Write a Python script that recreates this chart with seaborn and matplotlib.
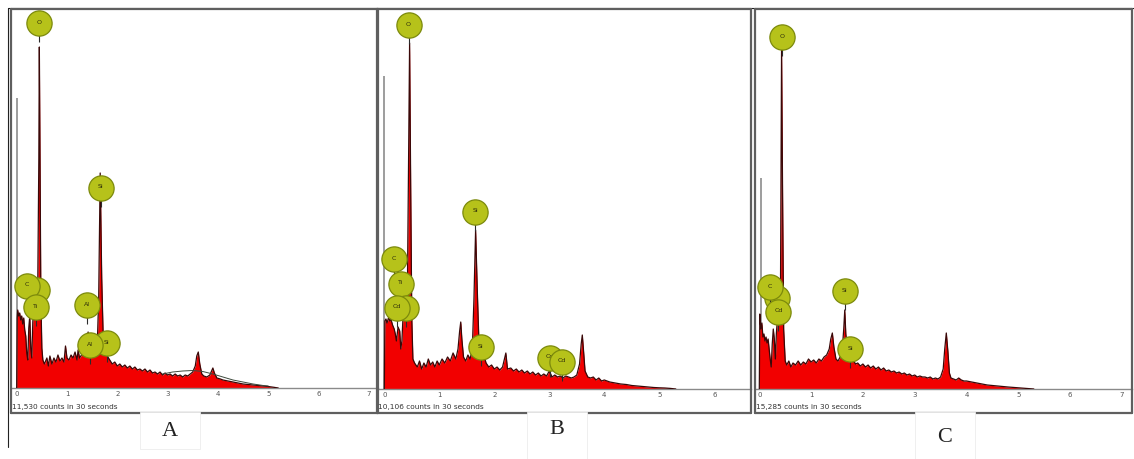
import matplotlib
matplotlib.use('Agg')
import matplotlib.pyplot as plt
from matplotlib.patches import Rectangle
from matplotlib.lines import Line2D
import seaborn as sns

W, H = 1134, 459

# ---- spectrum A ----
energy_a = [0.00, 0.01, 0.02, 0.04, 0.06, 0.08, 0.10, 0.12, 0.14, 0.16, 0.18, 0.20, 0.22, 0.24, 0.26,
            0.28, 0.30, 0.32, 0.34, 0.36, 0.38, 0.40, 0.42, 0.44, 0.45, 0.46, 0.48, 0.50, 0.52, 0.55,
            0.60, 0.63, 0.66, 0.70, 0.74, 0.78, 0.82, 0.86, 0.90, 0.94, 0.97, 1.00, 1.04, 1.08, 1.12,
            1.16, 1.20, 1.22, 1.25, 1.30, 1.34, 1.38, 1.42, 1.45, 1.50, 1.55, 1.60, 1.63, 1.66, 1.69,
            1.72, 1.76, 1.80, 1.85, 1.90, 1.95, 2.00, 2.05, 2.10, 2.15, 2.20, 2.25, 2.30, 2.35, 2.40,
            2.45, 2.50, 2.55, 2.60, 2.65, 2.70, 2.75, 2.80, 2.85, 2.90, 2.95, 3.00, 3.05, 3.10, 3.15,
            3.20, 3.25, 3.30, 3.35, 3.40, 3.45, 3.50, 3.55, 3.58, 3.61, 3.64, 3.68, 3.72, 3.78, 3.84,
            3.90, 3.93, 3.98, 4.05, 4.10, 4.20, 4.30, 4.40, 4.50, 4.60, 4.70, 4.80, 4.90, 5.00, 5.10,
            5.20]
counts_a = [0, 70, 78, 72, 75, 68, 72, 64, 70, 58, 52, 35, 28, 60, 72,
            40, 30, 66, 82, 88, 86, 92, 110, 230, 341, 260, 90, 40, 28, 24,
            30, 22, 32, 24, 30, 26, 33, 27, 30, 26, 42, 30, 28, 33, 30,
            36, 28, 38, 30, 34, 38, 45, 56, 40, 34, 32, 40, 90, 215, 110,
            50, 44, 32, 28, 24, 26, 22, 24, 21, 23, 20, 22, 19, 21, 18,
            19, 17, 19, 16, 18, 15, 16, 14, 16, 13, 15, 13, 14, 12, 14,
            12, 13, 11, 13, 12, 14, 16, 22, 32, 36, 24, 14, 12, 11, 13,
            20, 15, 10, 9, 8, 7, 6, 5, 4, 3.5, 3, 2.5, 2, 1.5, 0.8,
            0]
bg_energy_a = [2.9, 3.1, 3.3, 3.5, 3.7, 3.9, 4.1, 4.3, 4.5, 4.7, 4.9, 5.0]
bg_counts_a = [14, 16, 17, 17.5, 16.5, 14, 11, 8, 6, 4, 2.5, 2]
zero_a = (0.01, 290)
labels_a = ["N", "C", "Ti", "O", "Si", "Al", "Si", "Al"]
label_e_a = [0.40, 0.20, 0.38, 0.45, 1.67, 1.40, 1.79, 1.46]
label_h_a = [98, 102, 81, 365, 200, 83, 45, 43]

# ---- spectrum B ----
energy_b = [0.00, 0.01, 0.03, 0.05, 0.08, 0.10, 0.12, 0.15, 0.18, 0.20, 0.22, 0.25, 0.28, 0.30, 0.32,
            0.34, 0.36, 0.38, 0.40, 0.42, 0.44, 0.46, 0.48, 0.50, 0.52, 0.55, 0.60, 0.64, 0.68, 0.72,
            0.76, 0.80, 0.84, 0.88, 0.92, 0.96, 1.00, 1.05, 1.10, 1.15, 1.20, 1.25, 1.30, 1.34, 1.37,
            1.39, 1.41, 1.44, 1.48, 1.52, 1.56, 1.60, 1.63, 1.66, 1.69, 1.72, 1.76, 1.80, 1.85, 1.90,
            1.95, 2.00, 2.05, 2.10, 2.15, 2.21, 2.24, 2.30, 2.35, 2.40, 2.45, 2.50, 2.55, 2.60, 2.65,
            2.70, 2.75, 2.80, 2.85, 2.90, 2.95, 3.00, 3.05, 3.10, 3.15, 3.20, 3.25, 3.30, 3.35, 3.40,
            3.45, 3.50, 3.55, 3.58, 3.60, 3.62, 3.65, 3.70, 3.75, 3.80, 3.85, 3.90, 3.95, 4.00, 4.10,
            4.20, 4.30, 4.40, 4.50, 4.60, 4.70, 4.80, 4.90, 5.00, 5.10, 5.20, 5.30]
counts_b = [0, 68, 70, 66, 72, 68, 70, 64, 60, 55, 48, 62, 58, 40, 48,
            72, 76, 74, 80, 100, 220, 346, 200, 70, 30, 26, 22, 28, 20, 26,
            22, 30, 24, 27, 22, 28, 24, 30, 26, 32, 28, 36, 30, 40, 58,
            67, 50, 32, 28, 34, 30, 40, 90, 159, 100, 48, 42, 36, 26, 22,
            24, 20, 22, 19, 22, 36, 20, 21, 18, 20, 17, 19, 16, 18, 15,
            17, 14, 16, 13, 15, 13, 18, 12, 14, 12, 13, 11, 13, 12, 11,
            12, 14, 25, 45, 54, 40, 18, 12, 11, 12, 9, 11, 8, 9, 7,
            6, 5, 4.5, 3.5, 3, 2.5, 2, 1.5, 1.2, 1, 0.6, 0]
zero_b = (0.00, 313)
labels_b = ["C", "Ti", "Cd", "Cd", "O", "Si", "Si", "Cd", "Cd"]
label_e_b = [0.18, 0.30, 0.39, 0.23, 0.44, 1.65, 1.75, 3.01, 3.23]
label_h_b = [130, 105, 81, 81, 364, 177, 42, 31, 27]

# ---- spectrum C ----
energy_c = [0.00, 0.01, 0.03, 0.05, 0.07, 0.09, 0.11, 0.13, 0.15, 0.17, 0.19, 0.21, 0.23, 0.25, 0.27,
            0.29, 0.31, 0.33, 0.35, 0.37, 0.39, 0.41, 0.43, 0.45, 0.47, 0.50, 0.53, 0.57, 0.61, 0.65,
            0.70, 0.75, 0.80, 0.85, 0.90, 0.95, 1.00, 1.05, 1.10, 1.15, 1.20, 1.25, 1.30, 1.35, 1.38,
            1.41, 1.44, 1.48, 1.52, 1.56, 1.60, 1.63, 1.65, 1.67, 1.70, 1.74, 1.78, 1.82, 1.86, 1.90,
            1.95, 2.00, 2.05, 2.10, 2.15, 2.20, 2.25, 2.30, 2.35, 2.40, 2.45, 2.50, 2.55, 2.60, 2.65,
            2.70, 2.75, 2.80, 2.85, 2.90, 2.95, 3.00, 3.05, 3.10, 3.15, 3.20, 3.25, 3.30, 3.35, 3.40,
            3.45, 3.50, 3.55, 3.58, 3.61, 3.64, 3.67, 3.70, 3.75, 3.80, 3.85, 3.90, 3.95, 4.00, 4.10,
            4.20, 4.30, 4.40, 4.50, 4.60, 4.70, 4.80, 4.90, 5.00, 5.10, 5.20, 5.30]
counts_c = [0, 75, 60, 66, 52, 55, 48, 52, 46, 50, 40, 30, 22, 45, 60,
            50, 30, 56, 70, 74, 72, 110, 341, 190, 60, 28, 24, 28, 22, 26,
            24, 28, 24, 27, 25, 30, 27, 29, 26, 30, 28, 32, 34, 40, 50,
            56, 42, 30, 28, 32, 38, 60, 79, 55, 42, 38, 32, 28, 25, 26,
            23, 25, 22, 24, 21, 23, 20, 22, 19, 21, 18, 19, 17, 18, 16,
            17, 15, 16, 14, 15, 13, 14, 12, 13, 12, 12, 11, 12, 10, 11,
            10, 12, 20, 40, 56, 38, 16, 11, 10, 9, 11, 9, 8, 8, 7,
            6, 5, 4, 3.5, 3, 2.5, 2, 1.6, 1.2, 0.8, 0.4, 0]
zero_c = (0.03, 211)
labels_c = ["Ti", "C", "Cd", "O", "Si", "Si"]
label_e_c = [0.34, 0.21, 0.37, 0.44, 1.65, 1.76]
label_h_c = [91, 102, 77, 352, 98, 40]

counts_text = ["11,530 counts in 30 seconds", "10,106 counts in 30 seconds", "15,285 counts in 30 seconds"]
panel_names = ["A", "B", "C"]

sns.set_style("white")
plt.rcParams['font.family'] = ['DejaVu Sans']

fig = plt.figure(figsize=(W / 100, H / 100), dpi=100)


def fx(x):
    return x / W


def fy(y):
    return 1 - y / H


def frame_line(x0, y0, x1, y1, color='#5f5f5f', lw=1.6, z=1):
    fig.add_artist(Line2D([fx(x0), fx(x1)], [fy(y0), fy(y1)], color=color, lw=lw, zorder=z))


# outer border of the whole picture
frame_line(8, 8, 1134, 8, color='#222222', lw=0.8)
frame_line(8, 8, 8, 447, color='#222222', lw=0.8)

# frame edges, zero-energy pixel, px per keV, baseline, caption position and caption box (all in px)
panels = [
    dict(energy=energy_a, counts=counts_a, zero=zero_a, labels=labels_a, le=label_e_a, lh=label_h_a,
         fl=11, fr=378, x0=16.7, scale=50.3, base=388, lx=170, ly=432, bx0=140, bx1=200, bb=449, nt=8),
    dict(energy=energy_b, counts=counts_b, zero=zero_b, labels=labels_b, le=label_e_b, lh=label_h_b,
         fl=377, fr=751, x0=384.3, scale=55.0, base=389, lx=557, ly=430, bx0=527, bx1=587, bb=459, nt=7),
    dict(energy=energy_c, counts=counts_c, zero=zero_c, labels=labels_c, le=label_e_c, lh=label_h_c,
         fl=755, fr=1132, x0=759.3, scale=51.8, base=389, lx=945, ly=438, bx0=915, bx1=975, bb=459, nt=8),
]

top = 12
for i, p in enumerate(panels):
    ax = fig.add_axes([fx(p['fl']), fy(p['base']), fx(p['fr'] - p['fl']), (p['base'] - top) / H])
    ax.patch.set_alpha(0)
    ax.fill_between(p['energy'], 0, p['counts'], color='#f20000', lw=0, zorder=2)
    sns.lineplot(x=p['energy'], y=p['counts'], ax=ax, color='#3a0808', lw=0.9, zorder=3)
    ax.vlines(p['zero'][0], 0, p['zero'][1], color='#8c8c8c', lw=1.2, zorder=1)
    if i == 0:
        sns.lineplot(x=bg_energy_a, y=bg_counts_a, ax=ax, color='#3d4a3d', lw=0.7, zorder=4)

    # element markers
    for k, (name, e, h) in enumerate(zip(p['labels'], p['le'], p['lh'])):
        z = 10 + 2 * k
        ax.vlines(e, h - 19, h - 11, color='#2b2b2b', lw=0.8, zorder=z - 1)
        ax.scatter([e], [h], s=330, facecolor='#b6c21a', edgecolor='#7c8a0c', linewidth=0.9,
                   zorder=z, clip_on=False)
        ax.text(e, h + 1, name, fontsize=4.5, color='#2e2e0a', ha='center', va='center',
                zorder=z + 1, clip_on=False)

    ax.set_xlim(-(p['x0'] - p['fl']) / p['scale'], (p['fr'] - p['x0']) / p['scale'])
    ax.set_ylim(0, p['base'] - top)
    ax.set_xticks(range(p['nt']))
    ax.set_xticklabels([str(t) for t in range(p['nt'])])
    ax.tick_params(axis='x', length=0, pad=2, labelsize=5, labelcolor='#555555')
    ax.set_yticks([])
    ax.set_xlabel('')
    ax.set_ylabel('')
    for side in ['top', 'left', 'right']:
        ax.spines[side].set_visible(False)
    ax.spines['bottom'].set_color('#8a8a8a')
    ax.spines['bottom'].set_linewidth(1.0)

    # panel frame
    frame_line(p['fl'], 9, p['fr'], 9)
    frame_line(p['fl'], 9, p['fl'], 413)
    frame_line(p['fr'], 9, p['fr'], 413)
    frame_line(p['fl'], 413, p['fr'], 413)

    fig.text(fx(p['fl'] + 1), fy(407), counts_text[i], fontsize=5.3, color='#333333',
             ha='left', va='center')

    # caption box with letter
    fig.add_artist(Rectangle((fx(p['bx0']), fy(p['bb'])), fx(p['bx1'] - p['bx0']), (p['bb'] - 412) / H,
                             transform=fig.transFigure, facecolor='white', edgecolor='#ececec',
                             lw=0.6, zorder=5))
    fig.text(fx(p['lx']), fy(p['ly']), panel_names[i], fontsize=16, family='Liberation Serif',
             color='#222222', ha='center', va='center', zorder=6)

fig.savefig('out.png', dpi=100)
